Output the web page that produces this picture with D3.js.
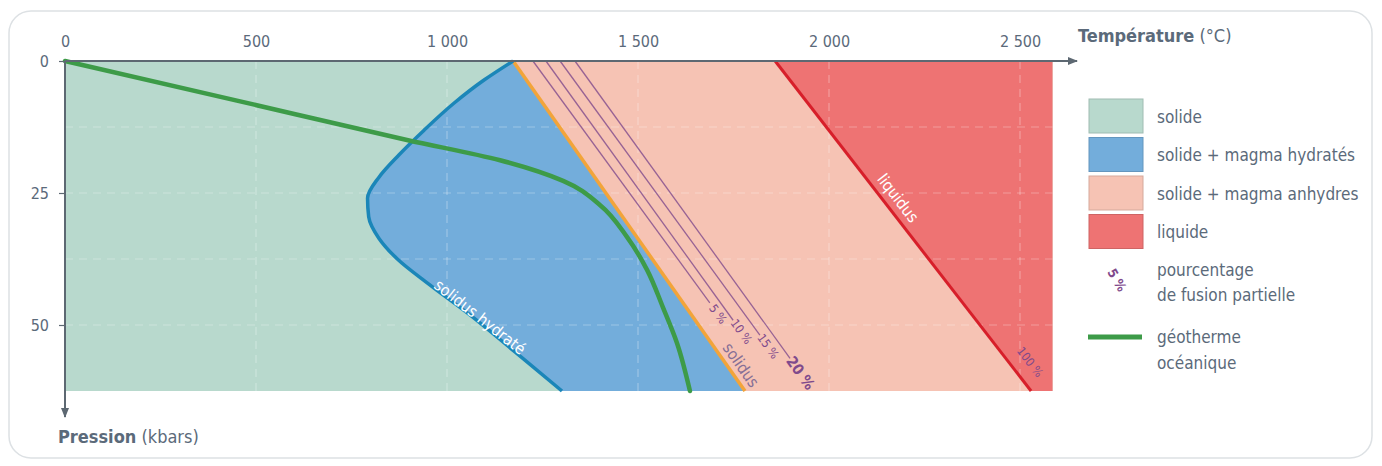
<!DOCTYPE html>
<head>
  <meta charset="utf-8">
  <script src="https://d3js.org/d3.v7.min.js"></script>
  <style>
    body { margin:0; background:#fff; }
    text { font-family: "Liberation Sans Narrow", "DejaVu Sans Condensed", sans-serif; }
  </style>
</head>
<body>
  <script>
    // axes
    var tempTicks = [0, 500, 1000, 1500, 2000, 2500];
    var tempLabels = ["0", "500", "1 000", "1 500", "2 000", "2 500"];
    var presTicks = [0, 25, 50];
    var gridT = [500, 1000, 1500, 2000, 2500];
    var gridP = [12.5, 25, 37.5, 50];
    var tMax = 2585, pMax = 62.5;

    // curves, [temperature °C, pression kbar]
    var solidus = [[1173, 0], [1780, 62.5]];
    var liquidus = [[1859, 0], [2529, 62.5]];
    var solidusHydrate = [[1173, 0], [1097, 3.6], [1018, 8], [940, 13.1], [874, 17.8], [822, 22],
                          [792, 26], [795, 29.5], [822, 33.6], [870, 37.5], [955, 42.4], [1060, 48.1],
                          [1178, 55.1], [1301, 62.5]];
    var geotherme = [[0, 0], [450, 7.5], [898, 15], [1139, 18.8], [1304, 22.7], [1401, 27.3],
                     [1471, 33.3], [1524, 39.6], [1565, 46.6], [1602, 53.4], [1636, 62.5]];

    // partial melting lines
    var fusionPct = ["5 %", "10 %", "15 %", "20 %"];
    var fusionTop = [1225, 1259, 1296, 1335];
    var fusionEndT = [1688, 1749, 1819, 1898];
    var fusionEndP = [45.8, 49.1, 51.9, 56.3];

    var legendLabels = ["solide", "solide + magma hydratés", "solide + magma anhydres", "liquide"];
    var legendColors = ["#b8d9cd", "#73addb", "#f6c3b4", "#ee7373"];

    var width = 1382, height = 466;
    var txt = "#5b6a7a", axisCol = "#5d6872", purple = "#7f4a8c";

    var svg = d3.select('body').append('svg')
      .attr('width', width)
      .attr('height', height);

    svg.append('rect')
      .attr('x', 9).attr('y', 11).attr('width', 1363).attr('height', 447)
      .attr('rx', 22)
      .style('fill', '#fff').style('stroke', '#dde1e4').style('stroke-width', 1.5);

    var x = d3.scaleLinear().domain([0, 2500]).range([65, 1020]);
    var y = d3.scaleLinear().domain([0, pMax]).range([61, 391]);

    var line = d3.line().x(d => x(d[0])).y(d => y(d[1]));
    var smooth = d3.line().x(d => x(d[0])).y(d => y(d[1])).curve(d3.curveMonotoneY);

    // fields
    svg.append('rect')
      .attr('x', x(0)).attr('y', y(0))
      .attr('width', x(tMax) - x(0)).attr('height', y(pMax) - y(0))
      .style('fill', legendColors[0]);

    svg.append('path')
      .attr('d', line([solidus[0], [tMax, 0], [tMax, pMax], solidus[1]]) + 'Z')
      .style('fill', legendColors[2]);

    svg.append('path')
      .attr('d', line([liquidus[0], [tMax, 0], [tMax, pMax], liquidus[1]]) + 'Z')
      .style('fill', legendColors[3]);

    svg.append('path')
      .attr('d', smooth(solidusHydrate) + 'L' + x(solidus[1][0]) + ',' + y(solidus[1][1]) + 'Z')
      .style('fill', legendColors[1]);

    // grid
    svg.selectAll('.gx').data(gridT).enter().append('line')
      .attr('x1', d => x(d)).attr('x2', d => x(d))
      .attr('y1', y(0)).attr('y2', y(pMax))
      .style('stroke', '#ffffff').style('stroke-opacity', 0.3)
      .style('stroke-width', 1.2).style('stroke-dasharray', '8,6');

    svg.selectAll('.gy').data(gridP).enter().append('line')
      .attr('x1', x(0)).attr('x2', x(tMax))
      .attr('y1', d => y(d)).attr('y2', d => y(d))
      .style('stroke', '#ffffff').style('stroke-opacity', 0.3)
      .style('stroke-width', 1.2).style('stroke-dasharray', '8,6');

    // partial melting lines
    svg.selectAll('.fusion').data(fusionPct).enter().append('line')
      .attr('x1', (d, i) => x(fusionTop[i])).attr('y1', y(0))
      .attr('x2', (d, i) => x(fusionEndT[i])).attr('y2', (d, i) => y(fusionEndP[i]))
      .style('stroke', purple).style('stroke-opacity', 0.8).style('stroke-width', 1.3);

    function angle(a, b) {
      return Math.atan2(y(b[1]) - y(a[1]), x(b[0]) - x(a[0])) * 180 / Math.PI;
    }

    svg.selectAll('.fusionLabel').data(fusionPct).enter().append('text')
      .attr('transform', function(d, i) {
        var a = angle([fusionTop[i], 0], [fusionEndT[i], fusionEndP[i]]);
        var r = a * Math.PI / 180, off = (i == 3) ? 18 : 14;
        var px = x(fusionEndT[i]) + off * Math.cos(r), py = y(fusionEndP[i]) + off * Math.sin(r);
        return 'translate(' + px + ',' + py + ') rotate(' + a + ')';
      })
      .attr('text-anchor', 'middle').attr('dy', '0.35em')
      .style('font-size', (d, i) => (i == 3) ? '15px' : '12px')
      .style('font-weight', (d, i) => (i == 3) ? 'bold' : 'normal')
      .style('fill', purple)
      .text(d => d);

    // boundaries
    svg.append('path').attr('d', line(solidus))
      .style('fill', 'none').style('stroke', '#f2a43a').style('stroke-width', 3.5);
    svg.append('path').attr('d', line(liquidus))
      .style('fill', 'none').style('stroke', '#d71f2a').style('stroke-width', 3);
    svg.append('path').attr('d', smooth(solidusHydrate))
      .style('fill', 'none').style('stroke', '#1b86b8').style('stroke-width', 3.5);
    svg.append('path').attr('d', smooth(geotherme))
      .style('fill', 'none').style('stroke', '#3d9b48').style('stroke-width', 4.5)
      .style('stroke-linecap', 'round');

    // curve labels
    function curveLabel(label, px, py, a, size, color) {
      svg.append('text')
        .attr('transform', 'translate(' + px + ',' + py + ') rotate(' + a + ')')
        .attr('text-anchor', 'middle').attr('dy', '0.35em')
        .style('font-size', size).style('fill', color)
        .text(label);
    }
    var aSol = angle(solidus[0], solidus[1]);
    var aLiq = angle(liquidus[0], liquidus[1]);
    curveLabel('solidus', 741, 365, aSol, '16px', '#866f96');
    curveLabel('liquidus', 898, 198, aLiq, '16px', '#ffffff');
    curveLabel('100 %', 1030, 362, aLiq, '12px', purple);
    curveLabel('solidus hydraté', 480, 317, 38, '16px', '#ffffff');

    // axes
    var defs = svg.append('defs');
    defs.append('marker').attr('id', 'arrow')
      .attr('viewBox', '0 0 10 10').attr('refX', 9).attr('refY', 5)
      .attr('markerWidth', 5).attr('markerHeight', 5).attr('orient', 'auto')
      .append('path').attr('d', 'M0,1 L10,5 L0,9 Z').style('fill', axisCol);

    svg.append('line')
      .attr('x1', x(0)).attr('y1', y(0)).attr('x2', 1077).attr('y2', y(0))
      .style('stroke', axisCol).style('stroke-width', 2)
      .attr('marker-end', 'url(#arrow)');
    svg.append('line')
      .attr('x1', x(0)).attr('y1', y(0)).attr('x2', x(0)).attr('y2', 417)
      .style('stroke', axisCol).style('stroke-width', 2)
      .attr('marker-end', 'url(#arrow)');

    var topAxis = d3.axisTop(x).tickValues(tempTicks)
      .tickFormat((d, i) => tempLabels[i]).tickSize(0).tickPadding(14);
    var gTop = svg.append('g').attr('transform', 'translate(0,' + y(0) + ')').call(topAxis);
    gTop.select('.domain').remove();
    gTop.selectAll('text').style('font-size', '16px').style('fill', txt)
      .style('font-family', '"Liberation Sans Narrow", "DejaVu Sans Condensed", sans-serif');

    var leftAxis = d3.axisLeft(y).tickValues(presTicks).tickSize(6).tickPadding(10);
    var gLeft = svg.append('g').attr('transform', 'translate(' + x(0) + ',0)').call(leftAxis);
    gLeft.select('.domain').remove();
    gLeft.selectAll('line').style('stroke', axisCol).style('stroke-width', 1.2);
    gLeft.selectAll('text').style('font-size', '16px').style('fill', txt)
      .style('font-family', '"Liberation Sans Narrow", "DejaVu Sans Condensed", sans-serif');

    var tTitle = svg.append('text').attr('x', 1078).attr('y', 42)
      .style('font-size', '18px').style('fill', txt);
    tTitle.append('tspan').style('font-weight', 'bold').text('Température');
    tTitle.append('tspan').text(' (°C)');

    var pTitle = svg.append('text').attr('x', 58).attr('y', 443)
      .style('font-size', '18px').style('fill', txt);
    pTitle.append('tspan').style('font-weight', 'bold').text('Pression');
    pTitle.append('tspan').text(' (kbars)');

    // legend
    var lg = svg.append('g');
    lg.selectAll('rect').data(legendLabels).enter().append('rect')
      .attr('x', 1089).attr('y', (d, i) => 99 + i * 38.5)
      .attr('width', 54).attr('height', 34)
      .style('fill', (d, i) => legendColors[i])
      .style('stroke', (d, i) => d3.color(legendColors[i]).darker(0.4))
      .style('stroke-width', 1);
    lg.selectAll('text.lab').data(legendLabels).enter().append('text')
      .attr('class', 'lab')
      .attr('x', 1157).attr('y', (d, i) => 117 + i * 38.5).attr('dy', '0.35em')
      .style('font-size', '17px').style('fill', txt)
      .text(d => d);

    lg.append('text')
      .attr('transform', 'translate(1117,280) rotate(60)')
      .attr('text-anchor', 'middle').attr('dy', '0.35em')
      .style('font-size', '13px').style('font-weight', 'bold').style('fill', purple)
      .text('5 %');
    lg.append('text').attr('x', 1157).attr('y', 270).attr('dy', '0.35em')
      .style('font-size', '17px').style('fill', txt).text('pourcentage');
    lg.append('text').attr('x', 1157).attr('y', 295).attr('dy', '0.35em')
      .style('font-size', '17px').style('fill', txt).text('de fusion partielle');

    lg.append('line').attr('x1', 1088).attr('x2', 1142).attr('y1', 337).attr('y2', 337)
      .style('stroke', '#3d9b48').style('stroke-width', 5);
    lg.append('text').attr('x', 1157).attr('y', 337).attr('dy', '0.35em')
      .style('font-size', '17px').style('fill', txt).text('géotherme');
    lg.append('text').attr('x', 1157).attr('y', 363).attr('dy', '0.35em')
      .style('font-size', '17px').style('fill', txt).text('océanique');
  </script>
</body>
